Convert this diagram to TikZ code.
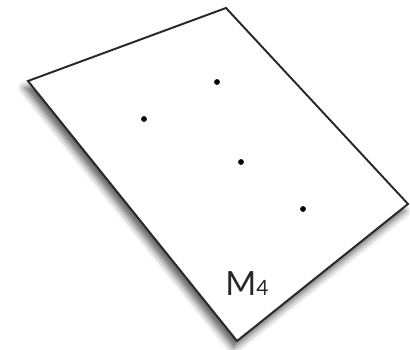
\documentclass[tikz,border=0pt]{standalone}
\usepackage{fontspec}
\setmainfont{Lato}
\usepackage{tikz}
\usetikzlibrary{shadows.blur}
\definecolor{rand}{RGB}{40,40,40}

\begin{document}
\begin{tikzpicture}[x=0.02cm,y=-0.02cm]
  \useasboundingbox (0,0) rectangle (410,350);

  % corners of the plane
  \coordinate (top) at (226,8);
  \coordinate (left) at (28,81);
  \coordinate (bot) at (237,341);
  \coordinate (right) at (408,204);

  % plane with shadow
  \draw[rand,line width=1.1pt,line join=miter,fill=white,
        blur shadow={shadow xshift=-2pt,shadow yshift=-4pt,shadow blur radius=4pt,shadow opacity=65}]
    (top) -- (left) -- (bot) -- (right) -- cycle;

  % points
  \fill (217,82) circle (0.058cm);
  \fill (144,119) circle (0.058cm);
  \fill (241,162) circle (0.058cm);
  \fill (303,209) circle (0.058cm);

  % label
  \node[anchor=base west,inner sep=0pt,text=rand] (lbl) at (225,296) {\fontsize{19}{19}\selectfont M\fontsize{12}{12}\selectfont 4};
\end{tikzpicture}
\end{document}
